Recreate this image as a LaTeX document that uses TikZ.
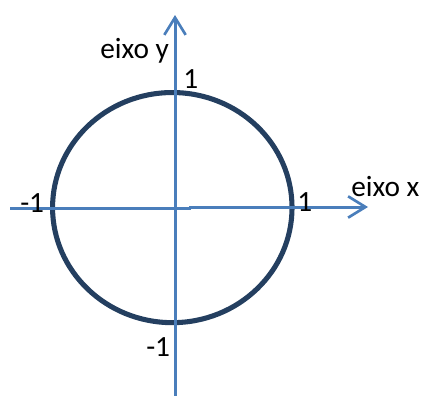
\documentclass[tikz,border=0pt]{standalone}
\usepackage{fontspec}
\setmainfont{Carlito}
\usetikzlibrary{arrows.meta}
\definecolor{axisblue}{HTML}{4A7EBB}
\definecolor{circnavy}{HTML}{243F60}
\tikzset{
  axis/.style={draw=axisblue, line width=2.25pt},
  axisarrow/.style={axis, -{Straight Barb[length=13pt,width=16pt,line width=2pt]}},
  lbl/.style={inner sep=0pt, anchor=base west, font=\fontsize{22}{26}\selectfont, text=black},
  circ/.style={draw=circnavy, line width=3.8pt}
}
\begin{document}
\begin{tikzpicture}[x=0.75pt,y=-0.75pt]
\useasboundingbox (0,0) rectangle (422,396);
% axes end points
\coordinate (xl) at (10,208.7);
\coordinate (xm1) at (191,208.7);
\coordinate (xm2) at (189,207);
\coordinate (xr) at (368,207);
\coordinate (yb) at (175,396);
\coordinate (yt) at (175,15);
\coordinate (o) at (172.3,207.6);
% circle
\draw[circ] (o) ellipse [x radius=89.8pt, y radius=86.3pt];
% axes
\draw[axis] (xl) -- (xm1);
\draw[axisarrow] (xm2) -- (xr);
\draw[axisarrow] (yb) -- (yt);
% labels
\node[lbl] (ey) at (100,58) {eixo y};
\node[lbl] (ex) at (351,196) {eixo x};
\node[lbl] (ytop) at (183,88) {1};
\node[lbl] (xright) at (297,211) {1};
\node[lbl] (xleft) at (20,212) {-1};
\node[lbl] (ybot) at (146,356) {-1};
\end{tikzpicture}
\end{document}
